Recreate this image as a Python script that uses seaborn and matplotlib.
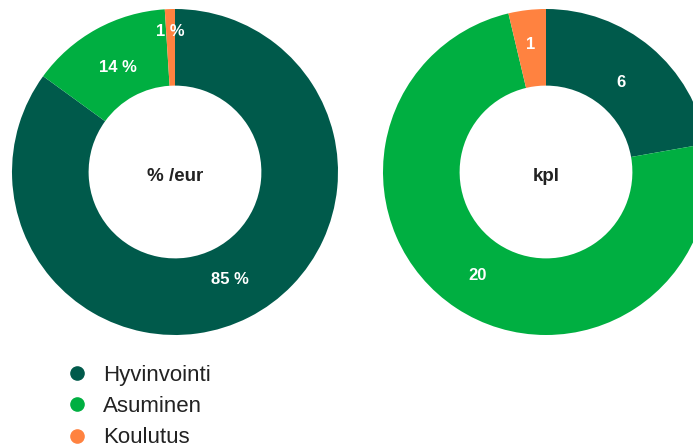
import numpy as np
import matplotlib
matplotlib.use("Agg")
import matplotlib.pyplot as plt
import seaborn as sns
from matplotlib.lines import Line2D

# data
categories = ["Hyvinvointi", "Asuminen", "Koulutus"]
eur_share = [85, 14, 1]
count_kpl = [6, 20, 1]
eur_labels = ["85 %", "14 %", "1 %"]
kpl_labels = ["6", "20", "1"]

sns.set_theme(style="white")
plt.rcParams["font.family"] = ["Liberation Sans", "DejaVu Sans"]
colors = sns.color_palette(["#005A4B", "#00AF41", "#FF8240"])

fig = plt.figure(figsize=(6.93, 4.46), dpi=100)
fig.patch.set_facecolor("white")

W, H = 693, 446
R = 163  # outer radius in px


def donut(cx, cy, values, labels, center_text, label_r):
    ax = fig.add_axes([(cx - R) / W, (H - cy - R) / H, 2 * R / W, 2 * R / H])
    wedges, _ = ax.pie(values, colors=colors, startangle=90, counterclock=False,
                       radius=1, wedgeprops=dict(width=0.47, linewidth=0))
    for w, lab, r in zip(wedges, labels, label_r):
        ang = np.deg2rad((w.theta1 + w.theta2) / 2)
        ax.text(r * np.cos(ang), r * np.sin(ang), lab, color="white",
                fontsize=12, fontweight="bold", ha="center", va="center")
    ax.text(0, -0.03, center_text, color="#222222", fontsize=13.5,
            fontweight="bold", ha="center", va="center")
    ax.set_xlim(-1, 1)
    ax.set_ylim(-1, 1)
    ax.set_aspect("equal")
    ax.axis("off")
    return ax


donut(175, 172, eur_share, eur_labels, "% /eur", [0.74, 0.73, 0.86])
donut(546, 172, count_kpl, kpl_labels, "kpl", [0.72, 0.76, 0.79])

handles = [Line2D([], [], marker="o", linestyle="", markersize=9.5,
                  markerfacecolor=c, markeredgecolor=c) for c in colors]
fig.legend(handles, categories, loc="upper left",
           bbox_to_anchor=(66 / W, 1 - 365 / H), frameon=False,
           fontsize=16, labelspacing=0.46, handlelength=1.0,
           handletextpad=0.68, borderaxespad=0, borderpad=0,
           labelcolor="#222222")

fig.savefig("out.png", dpi=100, facecolor="white")
